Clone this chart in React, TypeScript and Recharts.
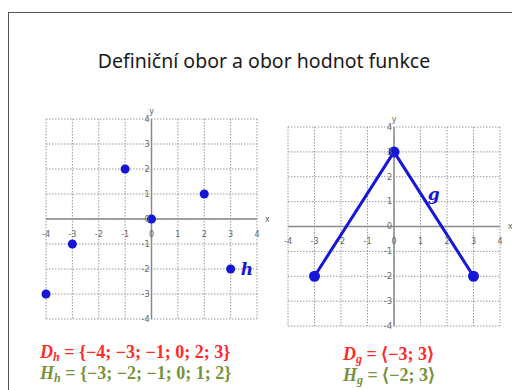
import {
  ScatterChart,
  Scatter,
  ComposedChart,
  Line,
  XAxis,
  YAxis,
  CartesianGrid,
  ReferenceLine,
  ReferenceDot,
} from "recharts"

// axis ticks shared by both graphs
const ticks = [-4, -3, -2, -1, 0, 1, 2, 3, 4]

// function h: isolated points
const hX = [-4, -3, -1, 0, 2, 3]
const hY = [-3, -1, 2, 0, 1, -2]

// function g: broken line
const gX = [-3, 0, 3]
const gY = [-2, 3, -2]

const hData = hX.map((x, i) => ({ x, y: hY[i] }))
const gData = gX.map((x, i) => ({ x, y: gY[i] }))

const BLUE = "#1616d8"
const AXIS = "#8a8a8a"
const TICK = { fontSize: 8, fill: "#666", fontFamily: "DejaVu Sans" }

function axisDecor() {
  return [
    <ReferenceLine key="ax" y={0} stroke={AXIS} strokeWidth={1.5} ifOverflow="visible" />,
    <ReferenceLine key="ay" x={0} stroke={AXIS} strokeWidth={1.5} ifOverflow="visible" />,
    ...ticks.map((t) => (
      <ReferenceDot
        key={`tx${t}`}
        x={t}
        y={0}
        r={0}
        stroke="none"
        fill="none"
        label={{ value: t, position: "bottom", offset: 12, ...TICK }}
      />
    )),
    ...ticks.map((t) => (
      <ReferenceDot
        key={`ty${t}`}
        x={0}
        y={t}
        r={0}
        stroke="none"
        fill="none"
        label={{ value: t, position: "left", offset: 2, ...TICK }}
      />
    )),
    <ReferenceDot
      key="ny"
      x={0}
      y={4}
      r={0}
      stroke="none"
      fill="none"
      label={{ value: "y", position: "top", offset: 5, ...TICK }}
    />,
    <ReferenceDot
      key="nx"
      x={4}
      y={0}
      r={0}
      stroke="none"
      fill="none"
      label={{ value: "x", position: "right", offset: 8, ...TICK }}
    />,
  ]
}

const M = { top: 20, right: 20, bottom: 20, left: 20 }

function HGraph() {
  return (
    <ScatterChart width={251} height={240} margin={M}>
      <CartesianGrid stroke="#9a9a9a" strokeDasharray="1.5 1.5" />
      <XAxis type="number" dataKey="x" domain={[-4, 4]} ticks={ticks} hide />
      <YAxis type="number" dataKey="y" domain={[-4, 4]} ticks={ticks} hide />
      {axisDecor()}
      <Scatter data={hData} fill={BLUE} shape="circle" isAnimationActive={false} />
      <ReferenceDot
        x={hX[5]}
        y={hY[5]}
        r={0}
        stroke="none"
        fill="none"
        label={{
          value: "h",
          position: "right",
          offset: 10,
          fill: BLUE,
          fontSize: 17,
          fontStyle: "italic",
          fontWeight: "bold",
          fontFamily: "DejaVu Serif",
        }}
      />
    </ScatterChart>
  )
}

function GGraph() {
  return (
    <ComposedChart width={252} height={239} margin={M} data={gData}>
      <CartesianGrid stroke="#9a9a9a" strokeDasharray="1.5 1.5" />
      <XAxis type="number" dataKey="x" domain={[-4, 4]} ticks={ticks} hide />
      <YAxis type="number" domain={[-4, 4]} ticks={ticks} hide />
      {axisDecor()}
      <Line
        dataKey="y"
        stroke={BLUE}
        strokeWidth={3}
        dot={{ r: 4, fill: BLUE, stroke: BLUE }}
        isAnimationActive={false}
      />
      <ReferenceDot
        x={1.5}
        y={1.3}
        r={0}
        stroke="none"
        fill="none"
        label={{
          value: "g",
          position: "center",
          fill: BLUE,
          fontSize: 17,
          fontStyle: "italic",
          fontWeight: "bold",
          fontFamily: "DejaVu Serif",
        }}
      />
    </ComposedChart>
  )
}

const mathFont = { fontFamily: "Liberation Serif", fontWeight: "bold" as const, fontSize: 18 }

function Formula({ letter, sub, rest, color }: { letter: string; sub: string; rest: string; color: string }) {
  return (
    <div style={{ ...mathFont, color, whiteSpace: "nowrap", lineHeight: "19px" }}>
      <i>{letter}</i>
      <i style={{ fontSize: 12, position: "relative", top: 3 }}>{sub}</i>
      {" " + rest}
    </div>
  )
}

export default function App() {
  return (
    <div
      style={{
        position: "absolute",
        left: 0,
        top: 0,
        width: 512,
        height: 390,
        overflow: "hidden",
        background: "#fff",
      }}
    >
      <div
        style={{
          position: "absolute",
          left: 8,
          top: 12,
          width: 520,
          height: 400,
          borderLeft: "1.5px solid #555",
          borderTop: "1.5px solid #555",
        }}
      />
      <div
        style={{
          position: "absolute",
          left: 0,
          width: 528,
          top: 47,
          textAlign: "center",
          fontFamily: "Noto Sans",
          fontSize: 19.5,
          color: "#1a1a1a",
        }}
      >
        Definiční obor a obor hodnot funkce
      </div>
      <div style={{ position: "absolute", left: 26, top: 99 }}>
        <HGraph />
      </div>
      <div style={{ position: "absolute", left: 268, top: 107 }}>
        <GGraph />
      </div>
      <div style={{ position: "absolute", left: 40, top: 343 }}>
        <Formula letter="D" sub="h" rest="= {−4; −3; −1; 0; 2; 3}" color="#ff2a2a" />
        <Formula letter="H" sub="h" rest="= {−3; −2; −1; 0; 1; 2}" color="#77933c" />
      </div>
      <div style={{ position: "absolute", left: 343, top: 345 }}>
        <Formula letter="D" sub="g" rest="= ⟨−3; 3⟩" color="#ff2a2a" />
        <Formula letter="H" sub="g" rest="= ⟨−2; 3⟩" color="#77933c" />
      </div>
    </div>
  )
}
